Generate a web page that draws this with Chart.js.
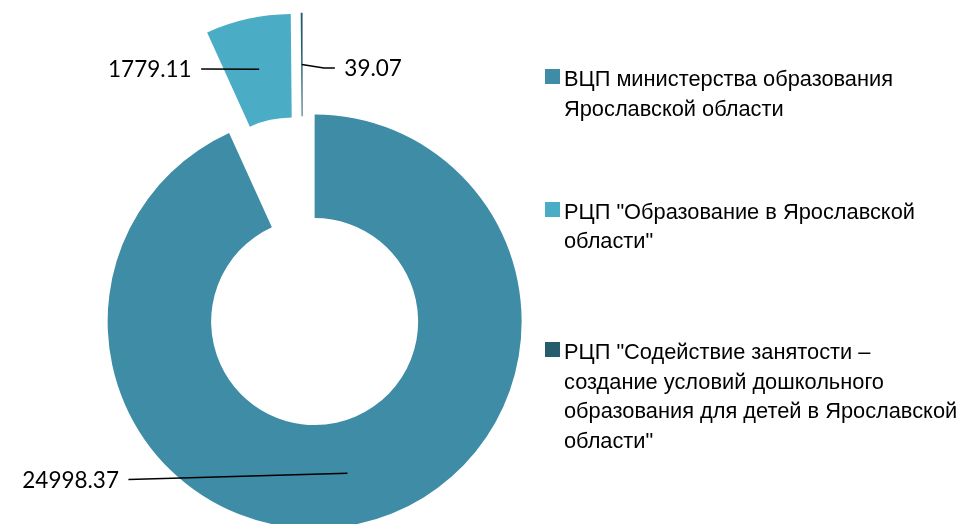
<!DOCTYPE html>
<html><head><meta charset="utf-8">
<script src="https://cdn.jsdelivr.net/npm/chart.js@4"></script>
<style>
html,body{margin:0;padding:0;background:#fff;}
#wrap{position:relative;width:965px;height:524px;overflow:hidden;background:#fff;}
#c{position:absolute;left:0;top:0;}
.leg{position:absolute;left:545px;font-family:"Liberation Sans",Arial,sans-serif;font-size:21.8px;line-height:29.5px;color:#000;white-space:nowrap;}
.leg .sw{position:absolute;left:0;top:4.8px;width:15px;height:15px;}
.leg .tx{position:absolute;left:19px;top:0;}
</style></head>
<body><div id="wrap"><canvas id="c" width="965" height="524"></canvas><div id="legend"></div></div>
<script>
const categories = [
  ['ВЦП министерства образования', 'Ярославской области'],
  ['РЦП "Образование в Ярославской', 'области"'],
  ['РЦП "Содействие занятости –', 'создание условий дошкольного', 'образования для детей в Ярославской', 'области"']
];
const values = [24998.37, 1779.11, 39.07];
const valueLabels = ['24998.37', '1779.11', '39.07'];

// styles
const colors = ['#3E8CA5', '#4BACC6', '#265D6C'];
const explode = [56, 47, 47];
const leaders = [
  {end: [-219, 6.3], align: 'right'},
  {end: [-58, -0.3], align: 'right'},
  {elbow: [22, 3.4], end: [33, 3.4], align: 'left'}
];
const legendTops = [64.0, 196.8, 337.0];

const explodeLabels = {
  id: 'explodeLabels',
  beforeDatasetDraw(chart, args) {
    const ds = chart.data.datasets[args.index];
    args.meta.data.forEach((arc, i) => {
      const mid = (arc.startAngle + arc.endAngle) / 2;
      const d = ds.explode[i] || 0;
      arc._ex = Math.cos(mid) * d; arc._ey = Math.sin(mid) * d;
      arc.x += arc._ex; arc.y += arc._ey;
    });
  },
  afterDatasetDraw(chart, args) {
    const ctx = chart.ctx;
    const ds = chart.data.datasets[args.index];
    args.meta.data.forEach((arc, i) => {
      const mid = (arc.startAngle + arc.endAngle) / 2;
      const r = (arc.innerRadius + arc.outerRadius) / 2;
      const ax = arc.x + Math.cos(mid) * r, ay = arc.y + Math.sin(mid) * r;
      const L = ds.leaders[i];
      ctx.save();
      ctx.strokeStyle = '#000';
      ctx.lineWidth = 1.5;
      ctx.beginPath();
      ctx.moveTo(ax, ay);
      if (L.elbow) ctx.lineTo(ax + L.elbow[0], ay + L.elbow[1]);
      const ex = ax + L.end[0], ey = ay + L.end[1];
      ctx.lineTo(ex, ey);
      ctx.stroke();
      ctx.fillStyle = '#000';
      ctx.font = '22.5px Lato';
      ctx.textBaseline = 'middle';
      ctx.textAlign = L.align;
      const gap = 9.5;
      ctx.fillText(ds.valueLabels[i], L.align === 'right' ? ex - gap : ex + gap, ey + 1);
      ctx.restore();
      arc.x -= arc._ex; arc.y -= arc._ey;
    });
  }
};

new Chart(document.getElementById('c'), {
  type: 'doughnut',
  data: {
    labels: categories,
    datasets: [{
      data: values,
      backgroundColor: colors,
      borderWidth: 0,
      explode: explode,
      leaders: leaders,
      valueLabels: valueLabels,
      clip: false
    }]
  },
  options: {
    responsive: false,
    devicePixelRatio: 1,
    animation: false,
    radius: 207,
    cutout: '50%',
    layout: {padding: {top: 9.6, right: 359.4, left: 0, bottom: 0}},
    plugins: {legend: {display: false}, tooltip: {enabled: false}},
    events: []
  },
  plugins: [explodeLabels]
});

const legend = document.getElementById('legend');
categories.forEach((lines, i) => {
  const item = document.createElement('div');
  item.className = 'leg';
  item.style.top = legendTops[i] + 'px';
  const sw = document.createElement('div');
  sw.className = 'sw';
  sw.style.background = colors[i];
  const tx = document.createElement('div');
  tx.className = 'tx';
  lines.forEach((ln, k) => {
    if (k) tx.appendChild(document.createElement('br'));
    tx.appendChild(document.createTextNode(ln));
  });
  item.appendChild(sw);
  item.appendChild(tx);
  legend.appendChild(item);
});
</script>
</body></html>
